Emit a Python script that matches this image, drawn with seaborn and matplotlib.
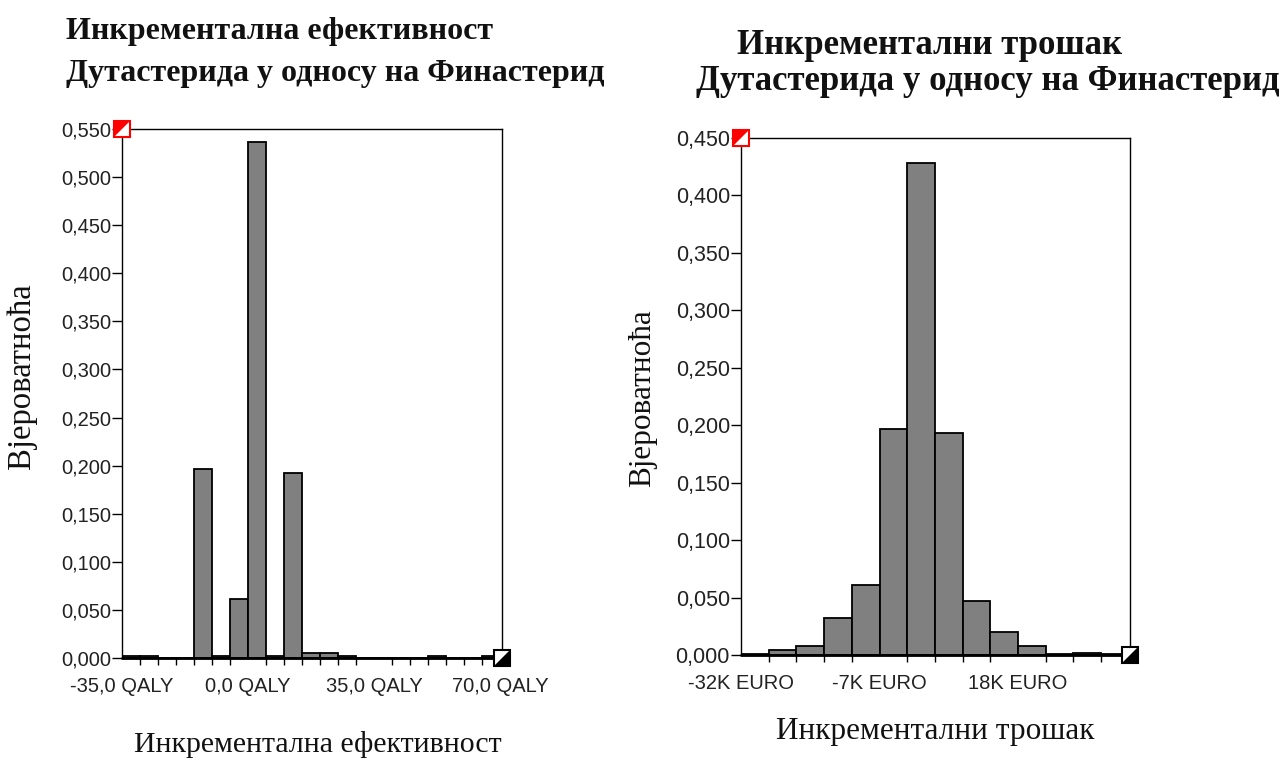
import numpy as np
import pandas as pd
import seaborn as sns
import matplotlib.pyplot as plt
from matplotlib.ticker import FixedLocator

# ---- data ----
# left: incremental effectiveness, bins of 5 QALY from -35 to 70
eff_edges = list(range(-35, 71, 5))
eff_probs = [0.002, 0.002, 0.0, 0.0, 0.196, 0.002, 0.061, 0.537, 0.002, 0.192,
             0.005, 0.005, 0.002, 0.0, 0.0, 0.0, 0.0, 0.002, 0.0, 0.0, 0.002]
eff_ticks = [-35, 0, 35, 70]
eff_ticklabels = ['-35,0 QALY', '0,0 QALY', '35,0 QALY', '70,0 QALY']

# right: incremental cost, bins of 5K EURO from -32K to 38K
cost_edges = list(range(-32, 39, 5))
cost_probs = [0.001, 0.004, 0.0075, 0.032, 0.061, 0.197, 0.428, 0.193,
              0.047, 0.020, 0.0075, 0.001, 0.002, 0.001]
cost_ticks = [-32, -7, 18]
cost_ticklabels = ['-32K EURO', '-7K EURO', '18K EURO']

eff_df = pd.DataFrame({'x': np.array(eff_edges[:-1]) + 2.5, 'p': eff_probs})
cost_df = pd.DataFrame({'x': np.array(cost_edges[:-1]) + 2.5, 'p': cost_probs})

sns.set_style('white')
plt.rcParams['font.family'] = ['Liberation Sans', 'DejaVu Sans']

fig = plt.figure(figsize=(12.85, 7.58), dpi=100)
W, H = 1285, 758

def px_axes(l, t, r, b):
    return fig.add_axes([l / W, 1 - b / H, (r - l) / W, (b - t) / H])

ax1 = px_axes(122, 129, 502, 658)
ax2 = px_axes(741, 138, 1130, 655)


def draw(ax, df, edges, ymax, ystep, xlim, ticks, ticklabels, xfs, yfs):
    sns.histplot(data=df, x='x', weights='p', bins=edges, stat='count',
                 color='#808080', edgecolor='black', linewidth=1.3,
                 alpha=1, ax=ax)
    ax.set_xlim(*xlim)
    ax.set_ylim(0, ymax)
    yt = np.arange(0, ymax + 1e-9, ystep)
    ax.set_yticks(yt)
    ax.set_yticklabels([f'{v:.3f}'.replace('.', ',') for v in yt])
    ax.xaxis.set_major_locator(FixedLocator(ticks))
    ax.set_xticklabels(ticklabels)
    ax.xaxis.set_minor_locator(FixedLocator(edges))
    ax.tick_params(axis='x', which='major', direction='out', length=9,
                   width=1, color='black', labelsize=xfs, pad=5,
                   labelcolor='#222222')
    ax.tick_params(axis='x', which='minor', direction='out', length=5,
                   width=1, color='black', bottom=True)
    ax.tick_params(axis='y', direction='out', length=7, width=1,
                   color='black', labelsize=yfs, pad=1, left=True,
                   labelcolor='#222222')
    ax.set_xlabel('')
    ax.set_ylabel('')
    for s in ax.spines.values():
        s.set_color('black')
        s.set_linewidth(1)
    ax.axhline(0, color='black', lw=2, zorder=5, clip_on=False)
    # slider markers at the corners
    tri_ul = [(-1, -1), (-1, 1), (1, 1)]
    tri_lr = [(-1, -1), (1, -1), (1, 1)]
    ax.plot([0], [1], transform=ax.transAxes, marker='s', ms=12, mfc='white',
            mec='red', mew=1.5, clip_on=False, zorder=10)
    ax.plot([0], [1], transform=ax.transAxes, marker=tri_ul, ms=12, mfc='red',
            mec='red', mew=0, clip_on=False, zorder=11)
    ax.plot([1], [0], transform=ax.transAxes, marker='s', ms=12, mfc='white',
            mec='black', mew=1.5, clip_on=False, zorder=10)
    ax.plot([1], [0], transform=ax.transAxes, marker=tri_lr, ms=12, mfc='black',
            mec='black', mew=0, clip_on=False, zorder=11)


draw(ax1, eff_df, eff_edges, 0.55, 0.05, (-35, 70.5), eff_ticks, eff_ticklabels,
     14.5, 14.5)
draw(ax2, cost_df, cost_edges, 0.45, 0.05, (-32, 38.2), cost_ticks, cost_ticklabels,
     14.5, 15.5)

serif = ['Liberation Serif', 'DejaVu Serif']
tkw = dict(family=serif, fontweight='bold', va='center', color='#111111')
fig.text(66 / W, 1 - 32 / H, 'Инкрементална ефективност', ha='left', fontsize=23, **tkw)
fig.text(66 / W, 1 - 74 / H, 'Дутастерида у односу на Финастерид', ha='left', fontsize=23, **tkw)
fig.text(930 / W, 1 - 45 / H, 'Инкрементални трошак', ha='center', fontsize=25, **tkw)
fig.text(988 / W, 1 - 82 / H, 'Дутастерида у односу на Финастерид', ha='center', fontsize=25, **tkw)

lkw = dict(family=serif, va='center', ha='center', color='#111111')
fig.text(318 / W, 1 - 744 / H, 'Инкрементална ефективност', fontsize=21.5, **lkw)
fig.text(935 / W, 1 - 732 / H, 'Инкрементални трошак', fontsize=22.5, **lkw)
fig.text(22 / W, 1 - 376 / H, 'Вјероватноћа', rotation=90, fontsize=23.5, **lkw)
fig.text(643 / W, 1 - 398 / H, 'Вјероватноћа', rotation=90, fontsize=22.5, **lkw)

fig.savefig('out.png', dpi=100)
